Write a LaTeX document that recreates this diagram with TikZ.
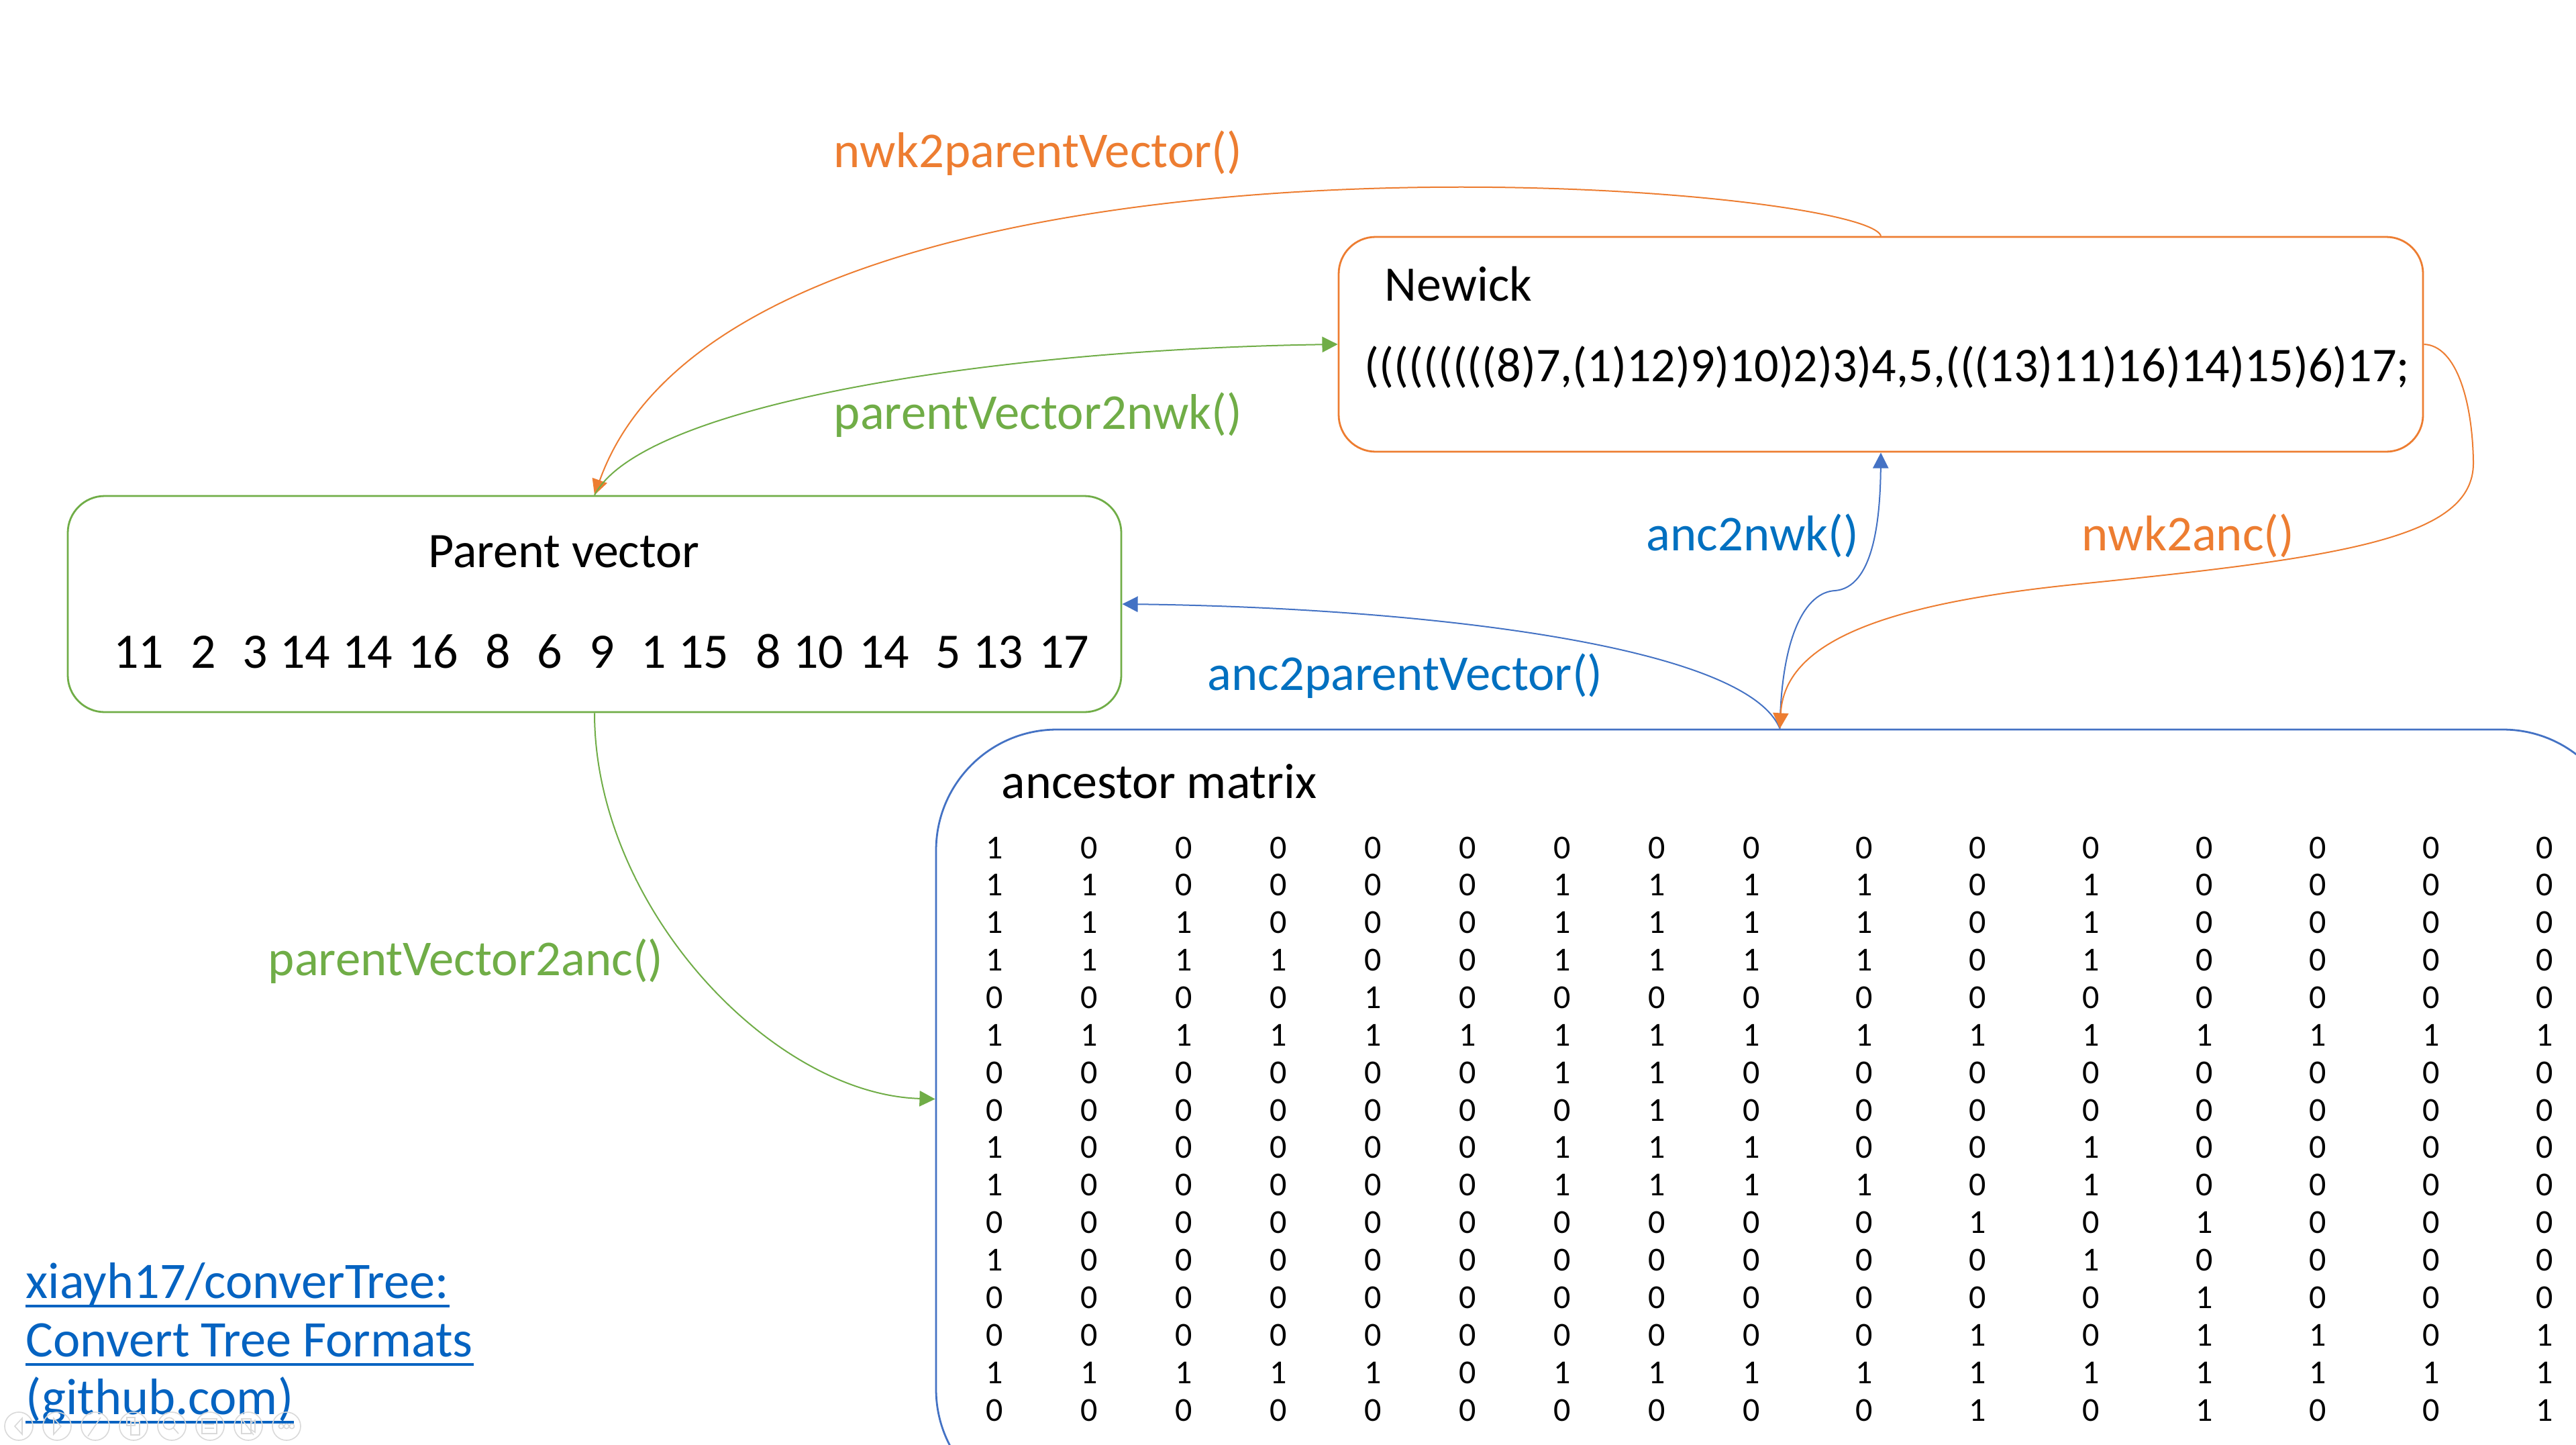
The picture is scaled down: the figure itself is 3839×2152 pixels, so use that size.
\documentclass[tikz,border=0pt]{standalone}
\usepackage{fontspec}
\setmainfont{Carlito}
\usetikzlibrary{arrows.meta,calc}
\definecolor{cor}{HTML}{ED7D31}
\definecolor{cgr}{HTML}{70AD47}
\definecolor{cbl}{HTML}{4472C4}
\definecolor{cbt}{HTML}{0070C0}
\definecolor{clink}{HTML}{0563C1}
\definecolor{ctb}{HTML}{D9D9D9}
\tikzset{
  box/.style={draw, rounded corners=13.75pt, line width=0.7pt, inner sep=0pt},
  txt/.style={anchor=base west, inner sep=0pt, font=\fontsize{18.5}{22}\selectfont},
  lbl/.style={anchor=base west, inner sep=0pt, font=\fontsize{18.7}{22}\selectfont},
  mat/.style={anchor=base, inner sep=0pt, font=\fontsize{12.5}{15}\selectfont},
  lnk/.style={anchor=base west, inner sep=0pt, text=clink, font=\fontsize{19.1}{22}\selectfont},
  conn/.style={line width=0.5pt, -{Triangle[length=5.8pt,width=5.8pt]}},
  tb/.style={draw=ctb, line width=0.4pt},
}
\begin{document}
\begin{tikzpicture}[x=0.25pt,y=-0.25pt]
\useasboundingbox (0,0) rectangle (3839,2152);
\fill[white] (0,0) rectangle (3839,2152);
\clip (0,0) rectangle (3839,2152);

% boxes
\node[box, draw=cor, minimum width=404pt, minimum height=80pt] (nwk) at (2803,513) {};
\node[box, draw=cgr, minimum width=392.5pt, minimum height=80.5pt] (pv) at (886,900) {};
\node[box, draw=cbl, rounded corners=45pt, minimum width=628.75pt, minimum height=290.75pt] (anc) at (2652.5,1668.5) {};

% Newick content
\node[txt] (nwktitle) at (2063,448) {Newick};
\node[txt, font=\fontsize{18.05}{22}\selectfont] (nwkstr) at (2033,568) {(((((((((8)7,(1)12)9)10)2)3)4,5,(((13)11)16)14)15)6)17;};

% Parent vector content
\node[txt] (pvtitle) at (638,845) {Parent vector};
\foreach \n/\xe [count=\i] in {11/245,2/323,3/400,14/493,14/586,16/684,8/762,6/839,9/917,1/994,15/1087,8/1165,10/1258,14/1356,5/1433,13/1526,17/1624}
  \node[txt, anchor=base east] (pv\i) at (\xe,995) {\n};

% ancestor matrix content
\node[txt] (anctitle) at (1492,1189) {ancestor matrix};
\foreach \row [count=\r] in {
 {1,0,0,0,0,0,0,0,0,0,0,0,0,0,0,0},
 {1,1,0,0,0,0,1,1,1,1,0,1,0,0,0,0},
 {1,1,1,0,0,0,1,1,1,1,0,1,0,0,0,0},
 {1,1,1,1,0,0,1,1,1,1,0,1,0,0,0,0},
 {0,0,0,0,1,0,0,0,0,0,0,0,0,0,0,0},
 {1,1,1,1,1,1,1,1,1,1,1,1,1,1,1,1},
 {0,0,0,0,0,0,1,1,0,0,0,0,0,0,0,0},
 {0,0,0,0,0,0,0,1,0,0,0,0,0,0,0,0},
 {1,0,0,0,0,0,1,1,1,0,0,1,0,0,0,0},
 {1,0,0,0,0,0,1,1,1,1,0,1,0,0,0,0},
 {0,0,0,0,0,0,0,0,0,0,1,0,1,0,0,0},
 {1,0,0,0,0,0,0,0,0,0,0,1,0,0,0,0},
 {0,0,0,0,0,0,0,0,0,0,0,0,1,0,0,0},
 {0,0,0,0,0,0,0,0,0,0,1,0,1,1,0,1},
 {1,1,1,1,1,0,1,1,1,1,1,1,1,1,1,1},
 {0,0,0,0,0,0,0,0,0,0,1,0,1,0,0,1}} {
  \foreach \v [count=\c] in \row {
    \pgfmathsetmacro\mx{\c<10 ? 1482+(\c-1)*141 : 2609+(\c-9)*169}
    \pgfmathsetmacro\my{1279+(\r-1)*55.87}
    \node[mat] (m-\r-\c) at (\mx,\my) {\v};
  }
}

% connectors
\coordinate (k1) at (2735,880);
\coordinate (k2) at (3686,690);
\coordinate (k3) at (3100,870);
\draw[conn, cor] (nwk.north) .. controls +(-23,-80) and +(214,-600) .. (pv.north);
\draw[conn, cgr] (pv.north) .. controls +(74,-139) and +(-494,7) .. (nwk.west);
\draw[conn, cgr] (pv.south) .. controls +(0,289) and +(-243,-7) .. ($(anc.west)+(0,-31)$);
\draw[conn, cbl] (anc.north) .. controls +(-52,-127) and +(429,5) .. (pv.east);
\draw[conn, cbl] (anc.north) .. controls +(2,-137) and +(-45,2) .. (k1) .. controls +(55,-5) and +(-1,107) .. (nwk.south);
\draw[conn, cor] (nwk.east) .. controls +(49,2) and +(-1,-90) .. (k2) .. controls +(0,110) and +(400,-40) .. (k3) .. controls +(-300,30) and +(7,-127) .. (anc.north);

% connector labels
\node[lbl, text=cor] (l-n2p) at (1242,249) {nwk2parentVector()};
\node[lbl, text=cgr] (l-p2n) at (1242,639) {parentVector2nwk()};
\node[lbl, text=cbt] (l-a2n) at (2453,820) {anc2nwk()};
\node[lbl, text=cor] (l-n2a) at (3102,820) {nwk2anc()};
\node[lbl, text=cbt] (l-a2p) at (1799,1028) {anc2parentVector()};
\node[lbl, text=cgr] (l-p2a) at (399,1453) {parentVector2anc()};

% link
\node[lnk] (lk1) at (38,1934) {xiayh17/converTree:};
\node[lnk] (lk2) at (38,2021) {Convert Tree Formats};
\node[lnk] (lk3) at (38,2107) {(github.com)};
\foreach \l in {lk1,lk2,lk3}
  \draw[clink, line width=0.85pt] ($(\l.base west)+(0,12)$) -- ($(\l.base east)+(0,12)$);

% faint slide-show toolbar
\foreach \i in {0,...,7} \draw[tb] (28+\i*57,2125) circle (5.25pt);
\draw[tb] (33,2113) -- (22,2125) -- (33,2137) -- cycle;
\draw[tb] (80,2113) -- (91,2125) -- (80,2137) -- cycle;
\draw[tb] (133,2137) -- (150,2112) (131,2140) -- (133,2137);
\draw[tb] (189,2112) rectangle (201,2124) (195,2118) rectangle (208,2138);
\draw[tb] (252,2121) circle (2.2pt) (258,2127) -- (266,2136);
\draw[tb] (301,2114) rectangle (323,2136) (305,2122) -- (319,2122) (305,2128) -- (319,2128);
\draw[tb] (360,2114) rectangle (374,2136) (374,2120) -- (380,2116) -- (380,2134) -- (374,2130) (360,2114) -- (378,2138);
\foreach \j in {-8,0,8} \draw[tb] (427+\j,2125) circle (0.9pt);
\end{tikzpicture}
\end{document}
